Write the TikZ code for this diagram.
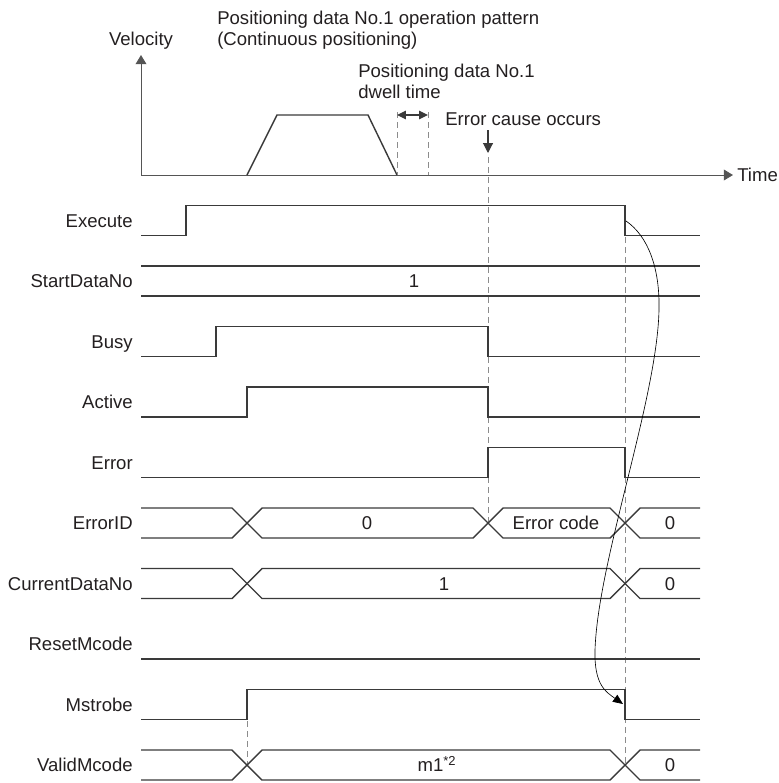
\documentclass[tikz,border=0pt]{standalone}
\usepackage{fontspec}
\setmainfont{Liberation Sans}
\usepackage{xcolor}
\usepackage{tikz}
\usetikzlibrary{arrows.meta,positioning,calc}

\definecolor{sigline}{HTML}{3A3A3A}
\definecolor{axisline}{HTML}{555555}
\definecolor{guideline}{HTML}{8C8C8C}
\definecolor{txt}{HTML}{231F20}

\begin{document}
\begin{tikzpicture}[x=0.25mm, y=-0.25mm,
  font=\fontsize{13.2}{15}\selectfont,
  sig/.style={draw=sigline, line width=1pt, line join=miter},
  axis/.style={draw=axisline, line width=0.7pt, -{Triangle[length=2.3mm,width=2.7mm]}},
  guide/.style={draw=guideline, line width=0.6pt, dash pattern=on 1.5mm off 1mm},
  link/.style={draw=black, line width=0.45pt, -{Triangle[length=2.5mm,width=2.1mm]}},
  lbl/.style={anchor=base east, inner sep=0pt, text=txt},
  val/.style={anchor=base, inner sep=0pt, text=txt},
  note/.style={anchor=base west, inner sep=0pt, text=txt}]
  \useasboundingbox (0,0) rectangle (778,783);

  % velocity profile
  \coordinate (origin) at (141,175);
  \coordinate (vtop) at (141,55);
  \coordinate (ttip) at (733,175);
  \draw[axis] (origin) -- (vtop);
  \draw[axis] (origin) -- (ttip);
  \node[val] (vel) at (141,45.5) {Velocity};
  \node[note] (timelbl) at (737,181.5) {Time};
  \draw[sig] (247,175) -- (277,115) -- (368,115) -- (397,175);
  \node[note] (pat1) at (217,24) {Positioning data No.1 operation pattern};
  \node[note] (pat2) at (217,45.5) {(Continuous positioning)};

  % dwell time
  \coordinate (dwellA) at (397,115);
  \coordinate (dwellB) at (428,115);
  \draw[guide] (397,112) -- (397,175);
  \draw[guide] (428,112) -- (428,175);
  \draw[draw=sigline, line width=0.8pt, {Triangle[length=2.2mm,width=2.1mm]}-{Triangle[length=2.2mm,width=2.1mm]}] (dwellA) -- (dwellB);
  \node[note] (dwell1) at (358,77.5) {Positioning data No.1};
  \node[note] (dwell2) at (358,98.5) {dwell time};

  % error cause
  \node[note] (errcause) at (445,125) {Error cause occurs};
  \coordinate (errtop) at (488,130);
  \coordinate (errtip) at (488,153);
  \draw[draw=sigline, line width=0.8pt, -{Triangle[length=2.5mm,width=2.5mm]}] (errtop) -- (errtip);

  % guide lines
  \draw[guide] (488,157) -- (488,523);
  \draw[guide] (625,237) -- (625,765);
  \draw[guide] (247,721) -- (247,765);

  % signal names
  \node[lbl] (lblExecute) at (133,227) {Execute};
  \node[lbl] (lblStart) at (133,287.5) {StartDataNo};
  \node[lbl] (lblBusy) at (133,348) {Busy};
  \node[lbl] (lblActive) at (133,408.5) {Active};
  \node[lbl] (lblError) at (133,469) {Error};
  \node[lbl] (lblErrorID) at (133,529.5) {ErrorID};
  \node[lbl] (lblCurrent) at (133,590) {CurrentDataNo};
  \node[lbl] (lblReset) at (133,650.5) {ResetMcode};
  \node[lbl] (lblMstrobe) at (133,711) {Mstrobe};
  \node[lbl] (lblValid) at (133,771.5) {ValidMcode};

  % Execute
  \draw[sig] (141,235.5) -- (186,235.5) -- (186,205.5) -- (625,205.5) -- (625,235.5) -- (700,235.5);
  % StartDataNo
  \draw[sig] (141,266) -- (700,266);
  \draw[sig] (141,296) -- (700,296);
  \node[val] (startval) at (414,287.5) {1};
  % Busy
  \draw[sig] (141,356.5) -- (216,356.5) -- (216,326.5) -- (488,326.5) -- (488,356.5) -- (700,356.5);
  % Active
  \draw[sig] (141,417) -- (247,417) -- (247,387) -- (488,387) -- (488,417) -- (700,417);
  % Error
  \draw[sig] (141,477.5) -- (488,477.5) -- (488,447.5) -- (625,447.5) -- (625,477.5) -- (700,477.5);
  % ErrorID
  \draw[sig] (141,508) -- (232,508) -- (262,538) -- (473,538) -- (503,508) -- (610,508) -- (640,538) -- (700,538);
  \draw[sig] (141,538) -- (232,538) -- (262,508) -- (473,508) -- (503,538) -- (610,538) -- (640,508) -- (700,508);
  \node[val] (eid0) at (367,529.5) {0};
  \node[val] (eidcode) at (556,529.5) {Error code};
  \node[val] (eid1) at (670,529.5) {0};
  % CurrentDataNo
  \draw[sig] (141,568.5) -- (232,568.5) -- (262,598.5) -- (610,598.5) -- (640,568.5) -- (700,568.5);
  \draw[sig] (141,598.5) -- (232,598.5) -- (262,568.5) -- (610,568.5) -- (640,598.5) -- (700,598.5);
  \node[val] (cur0) at (444,590) {1};
  \node[val] (cur1) at (670,590) {0};
  % ResetMcode
  \draw[sig] (141,659) -- (700,659);
  % Mstrobe
  \draw[sig] (141,719.5) -- (247,719.5) -- (247,689.5) -- (625,689.5) -- (625,719.5) -- (700,719.5);
  % ValidMcode
  \draw[sig] (141,750) -- (232,750) -- (262,780) -- (610,780) -- (640,750) -- (700,750);
  \draw[sig] (141,780) -- (232,780) -- (262,750) -- (610,750) -- (640,780) -- (700,780);
  \node[val] (valid0) at (437,771.5) {m1\textsuperscript{*2}};
  \node[val] (valid1) at (670,771.5) {0};

  % Execute off -> Mstrobe off
  \coordinate (exefall) at (626,221);
  \coordinate (mstfall) at (623,704);
  \draw[link] (exefall) .. controls (648,236) and (660,268) .. (659,310)
    .. controls (657,400) and (598,560) .. (595,650)
    .. controls (594,685) and (606,692) .. (mstfall);
\end{tikzpicture}
\end{document}
